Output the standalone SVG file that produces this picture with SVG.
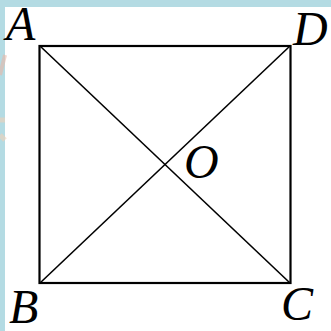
<svg xmlns="http://www.w3.org/2000/svg" width="331" height="331" viewBox="0 0 331 331">
<style>
.lbl{font-family:"Liberation Serif","Times New Roman",serif;font-style:italic;font-size:48px;fill:#000}
.edge{stroke:#000;stroke-width:2.2;fill:none}
.diag{stroke:#000;stroke-width:1.6;fill:none}
</style>
<rect x="0" y="0" width="331" height="331" fill="#ffffff"/>
<rect x="0" y="0" width="331" height="7" fill="#b4dbe3"/>
<rect x="0" y="0" width="5" height="331" fill="#b4dbe3"/>
<path d="M0 75 L5 55" stroke="#e8b8a8" stroke-width="4" opacity="0.6"/>
<path d="M0 120 L5 120 M0 135 L5 140" stroke="#f0d2b8" stroke-width="5" opacity="0.6"/>
<g id="connectors">
<rect class="edge" x="39.5" y="46" width="251" height="237"/>
<line class="diag" x1="40" y1="46" x2="290" y2="283"/>
<line class="diag" x1="40" y1="283" x2="290" y2="46"/>
</g>
<g id="A"><text class="lbl" x="6" y="40">A</text></g>
<g id="D"><text class="lbl" x="293" y="45">D</text></g>
<g id="B"><text class="lbl" x="9" y="323">B</text></g>
<g id="C"><text class="lbl" x="281" y="320">C</text></g>
<g id="O"><text class="lbl" x="184" y="178">O</text></g>
</svg>
